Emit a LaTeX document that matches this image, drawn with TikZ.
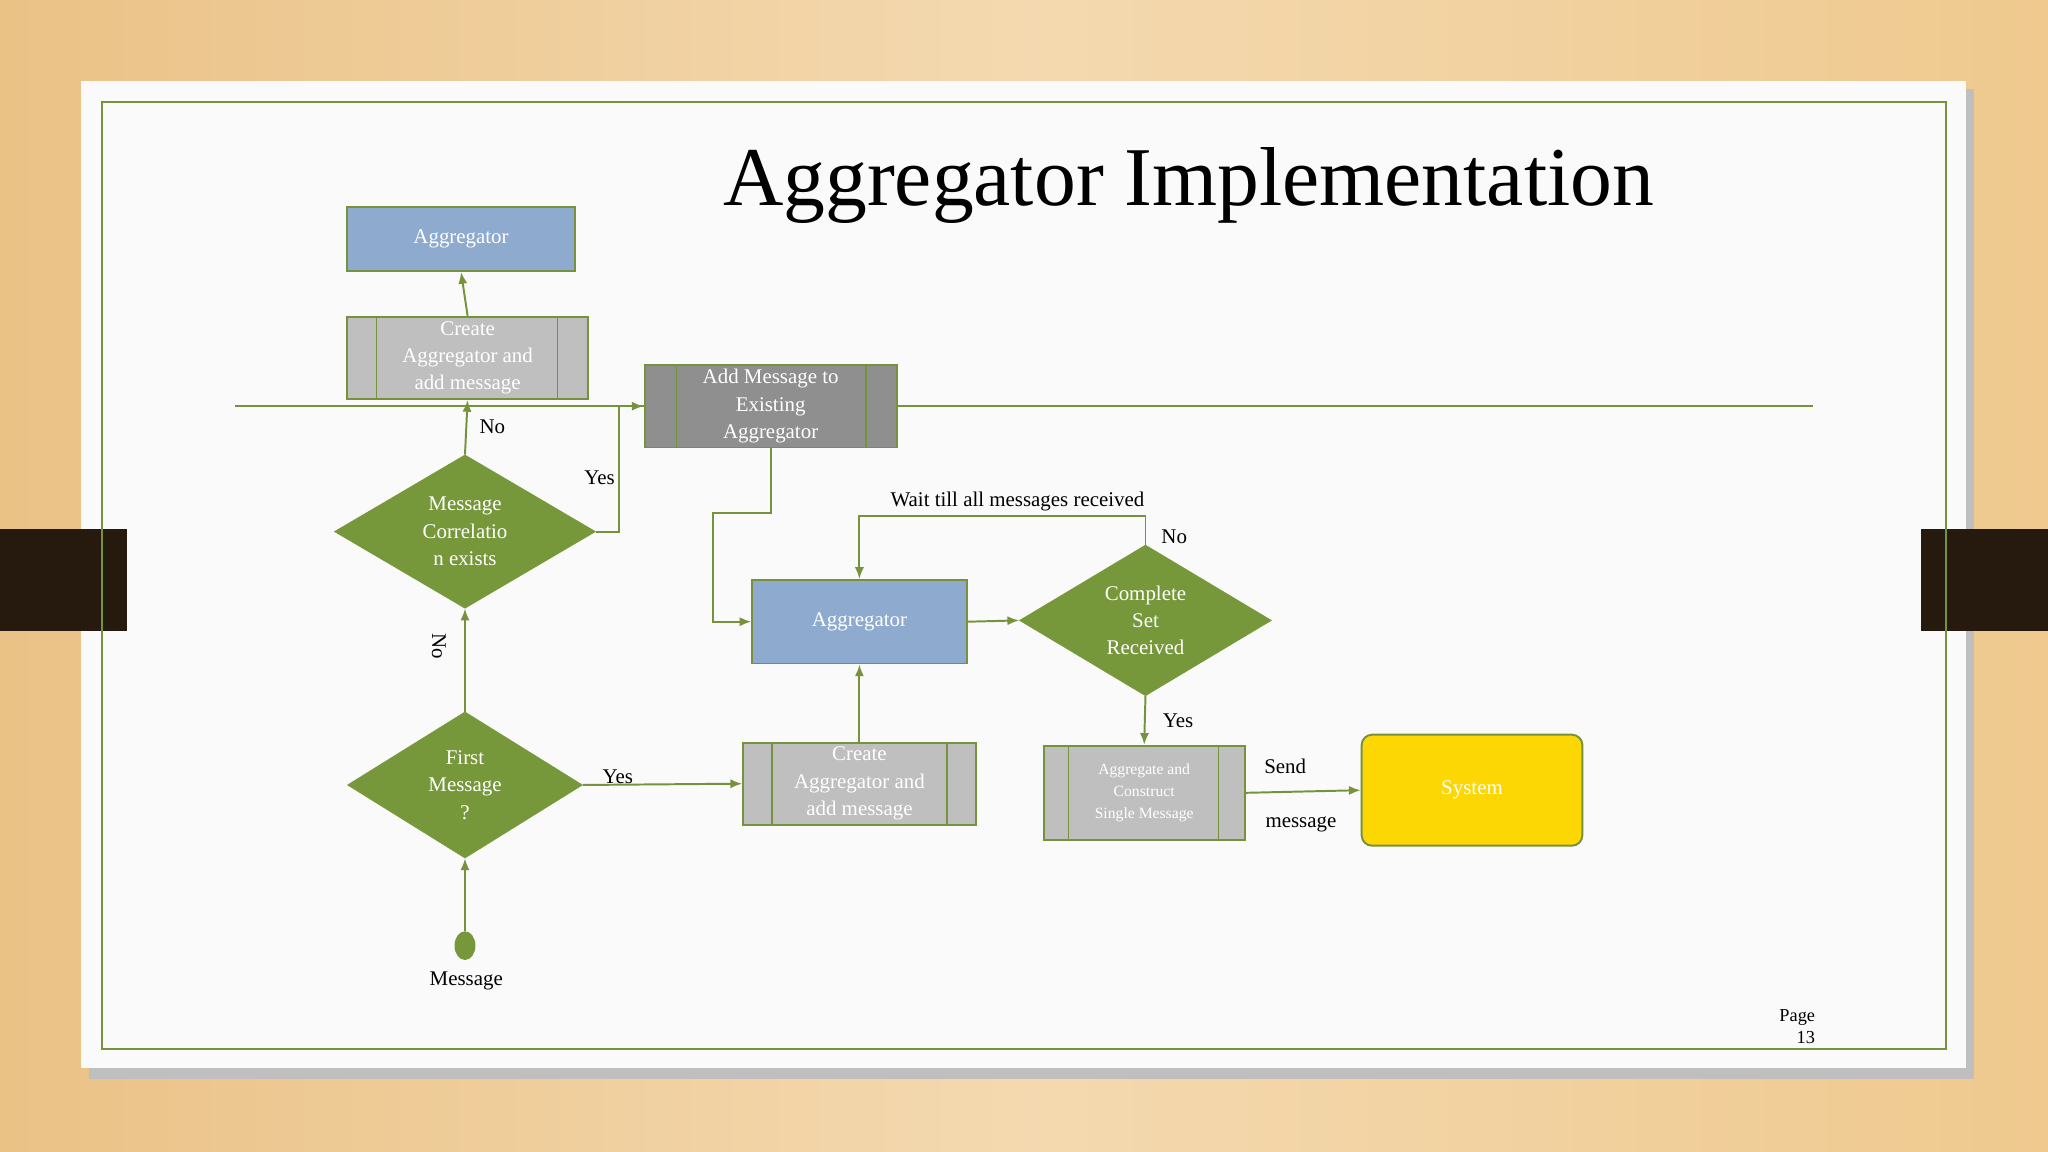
\documentclass[tikz,border=0pt]{standalone}
\usepackage{fontspec}
\setmainfont{Liberation Serif}
\usetikzlibrary{shapes.geometric,arrows.meta}
\definecolor{olive}{HTML}{76923C}
\definecolor{dfill}{HTML}{77983A}
\definecolor{bluebox}{HTML}{8EAACE}
\definecolor{greybox}{HTML}{BFBFBF}
\definecolor{dgrey}{HTML}{8F8F8F}
\definecolor{wood}{HTML}{EFC98E}
\tikzset{
 box/.style={draw=olive,line width=1.5pt,minimum width=#1,text=white,align=center,font=\fontsize{16}{21}\selectfont},
 proc/.style={draw=olive,line width=1.5pt,fill=greybox,text=white,align=center,font=\fontsize{16}{21}\selectfont},
 dia/.style={diamond,fill=dfill,draw=dfill,text=white,align=center,font=\fontsize{16}{21}\selectfont,inner sep=0pt},
 conn/.style={draw=olive,line width=1.5pt,-{Latex[length=9pt,width=7pt]}},
 lbl/.style={font=\fontsize{16}{20}\selectfont,text=black}
}
\begin{document}
\begin{tikzpicture}[x=1pt,y=-1pt]
\useasboundingbox (0,0) rectangle (1568,882);
\fill[left color=wood!90!brown,right color=wood,middle color=wood!70!white] (0,0) rectangle (1568,882);
\fill[black!25] (68,68) rectangle (1511,826);
\fill[white!96!gray] (62,62) rectangle (1505,818);
\fill[black!80!brown] (0,405) rectangle (97,483);
\fill[black!80!brown] (1471,405) rectangle (1568,483);
\draw[olive,line width=2pt] (78,78) rectangle (1490,803);
\node[font=\fontsize{64}{70}\selectfont] (title) at (910,142) {Aggregator Implementation};
% nodes
\node[box=174pt,minimum height=49pt,fill=bluebox] (agg1) at (353,183) {Aggregator};
\node[proc,minimum width=184pt,minimum height=63pt] (cr1) at (358,274) {Create\\Aggregator and\\add message};
\draw[olive,line width=1pt] (288,243)--(288,305) (427,243)--(427,305);
\node[proc,fill=dgrey,minimum width=193pt,minimum height=63pt] (add) at (590,311) {Add Message to\\Existing\\Aggregator};
\draw[olive,line width=1pt] (518,280)--(518,342) (663,280)--(663,342);
\node[dia,minimum width=200pt,minimum height=112pt] (corr) at (356,407) {Message\\Correlatio\\n exists};
\node[dia,minimum width=180pt,minimum height=112pt] (first) at (356,601) {First\\Message\\?};
\node[ellipse,fill=dfill,minimum width=16pt,minimum height=22pt,inner sep=0pt] (msg) at (356,724) {};
\node[lbl] (msgl) at (357,751) {Message};
\node[box=164pt,minimum height=64pt,fill=bluebox] (agg2) at (658,476) {Aggregator};
\node[dia,minimum width=193pt,minimum height=103pt] (comp) at (877,475) {Complete\\Set\\Received};
\node[proc,minimum width=178pt,minimum height=63pt] (cr2) at (658,600) {Create\\Aggregator and\\add message};
\draw[olive,line width=1pt] (591,569)--(591,631) (725,569)--(725,631);
\node[proc,minimum width=154pt,minimum height=72pt,font=\fontsize{12}{17}\selectfont] (aggc) at (876,607) {Aggregate and\\Construct\\Single Message};
\draw[olive,line width=1pt] (818,572)--(818,643) (933,572)--(933,643);
\node[draw=olive,line width=1.5pt,fill=yellow!75!orange,rounded corners=8pt,minimum width=169pt,minimum height=85pt,text=white,font=\fontsize{16}{20}\selectfont] (sys) at (1127,605) {System};
% horizontal line
\coordinate (hl) at (180,311);
\coordinate (hr) at (1388,311);
\draw[olive,line width=1.5pt] (hl)--(add.west) (add.east)--(hr);
% connectors
\draw[conn] (msg.north)--(first.south);
\draw[conn] (first.north)--(corr.south);
\node[lbl,rotate=-90] at (336,495) {No};
\draw[conn] (corr.north)--(cr1.south);
\node[lbl] at (377,327) {No};
\draw[conn] (cr1.north)--(agg1.south);
\draw[conn] (corr.east)--(474,407)--(474,311)--(add.west);
\node[lbl] at (459,366) {Yes};
\draw[conn] (add.south)--(590,393)--(546,393)--(546,476)--(agg2.west);
\draw[conn] (first.east)--(cr2.west);
\node[lbl] at (473,595) {Yes};
\draw[conn] (cr2.north)--(agg2.south);
\draw[conn] (agg2.east)--(comp.west);
\draw[conn] (comp.north)--(877,395)--(658,395)--(agg2.north);
\node[lbl] at (779,384) {Wait till all messages received};
\node[lbl] at (899,411) {No};
\draw[conn] (comp.south)--(aggc.north);
\node[lbl] at (902,552) {Yes};
\draw[conn] (aggc.east)--(sys.west);
\node[lbl] at (984,587) {Send};
\node[lbl] at (996,631) {message};
\node[font=\fontsize{14}{17}\selectfont,align=right] at (1376,786) {Page\\13};
\end{tikzpicture}
\end{document}
